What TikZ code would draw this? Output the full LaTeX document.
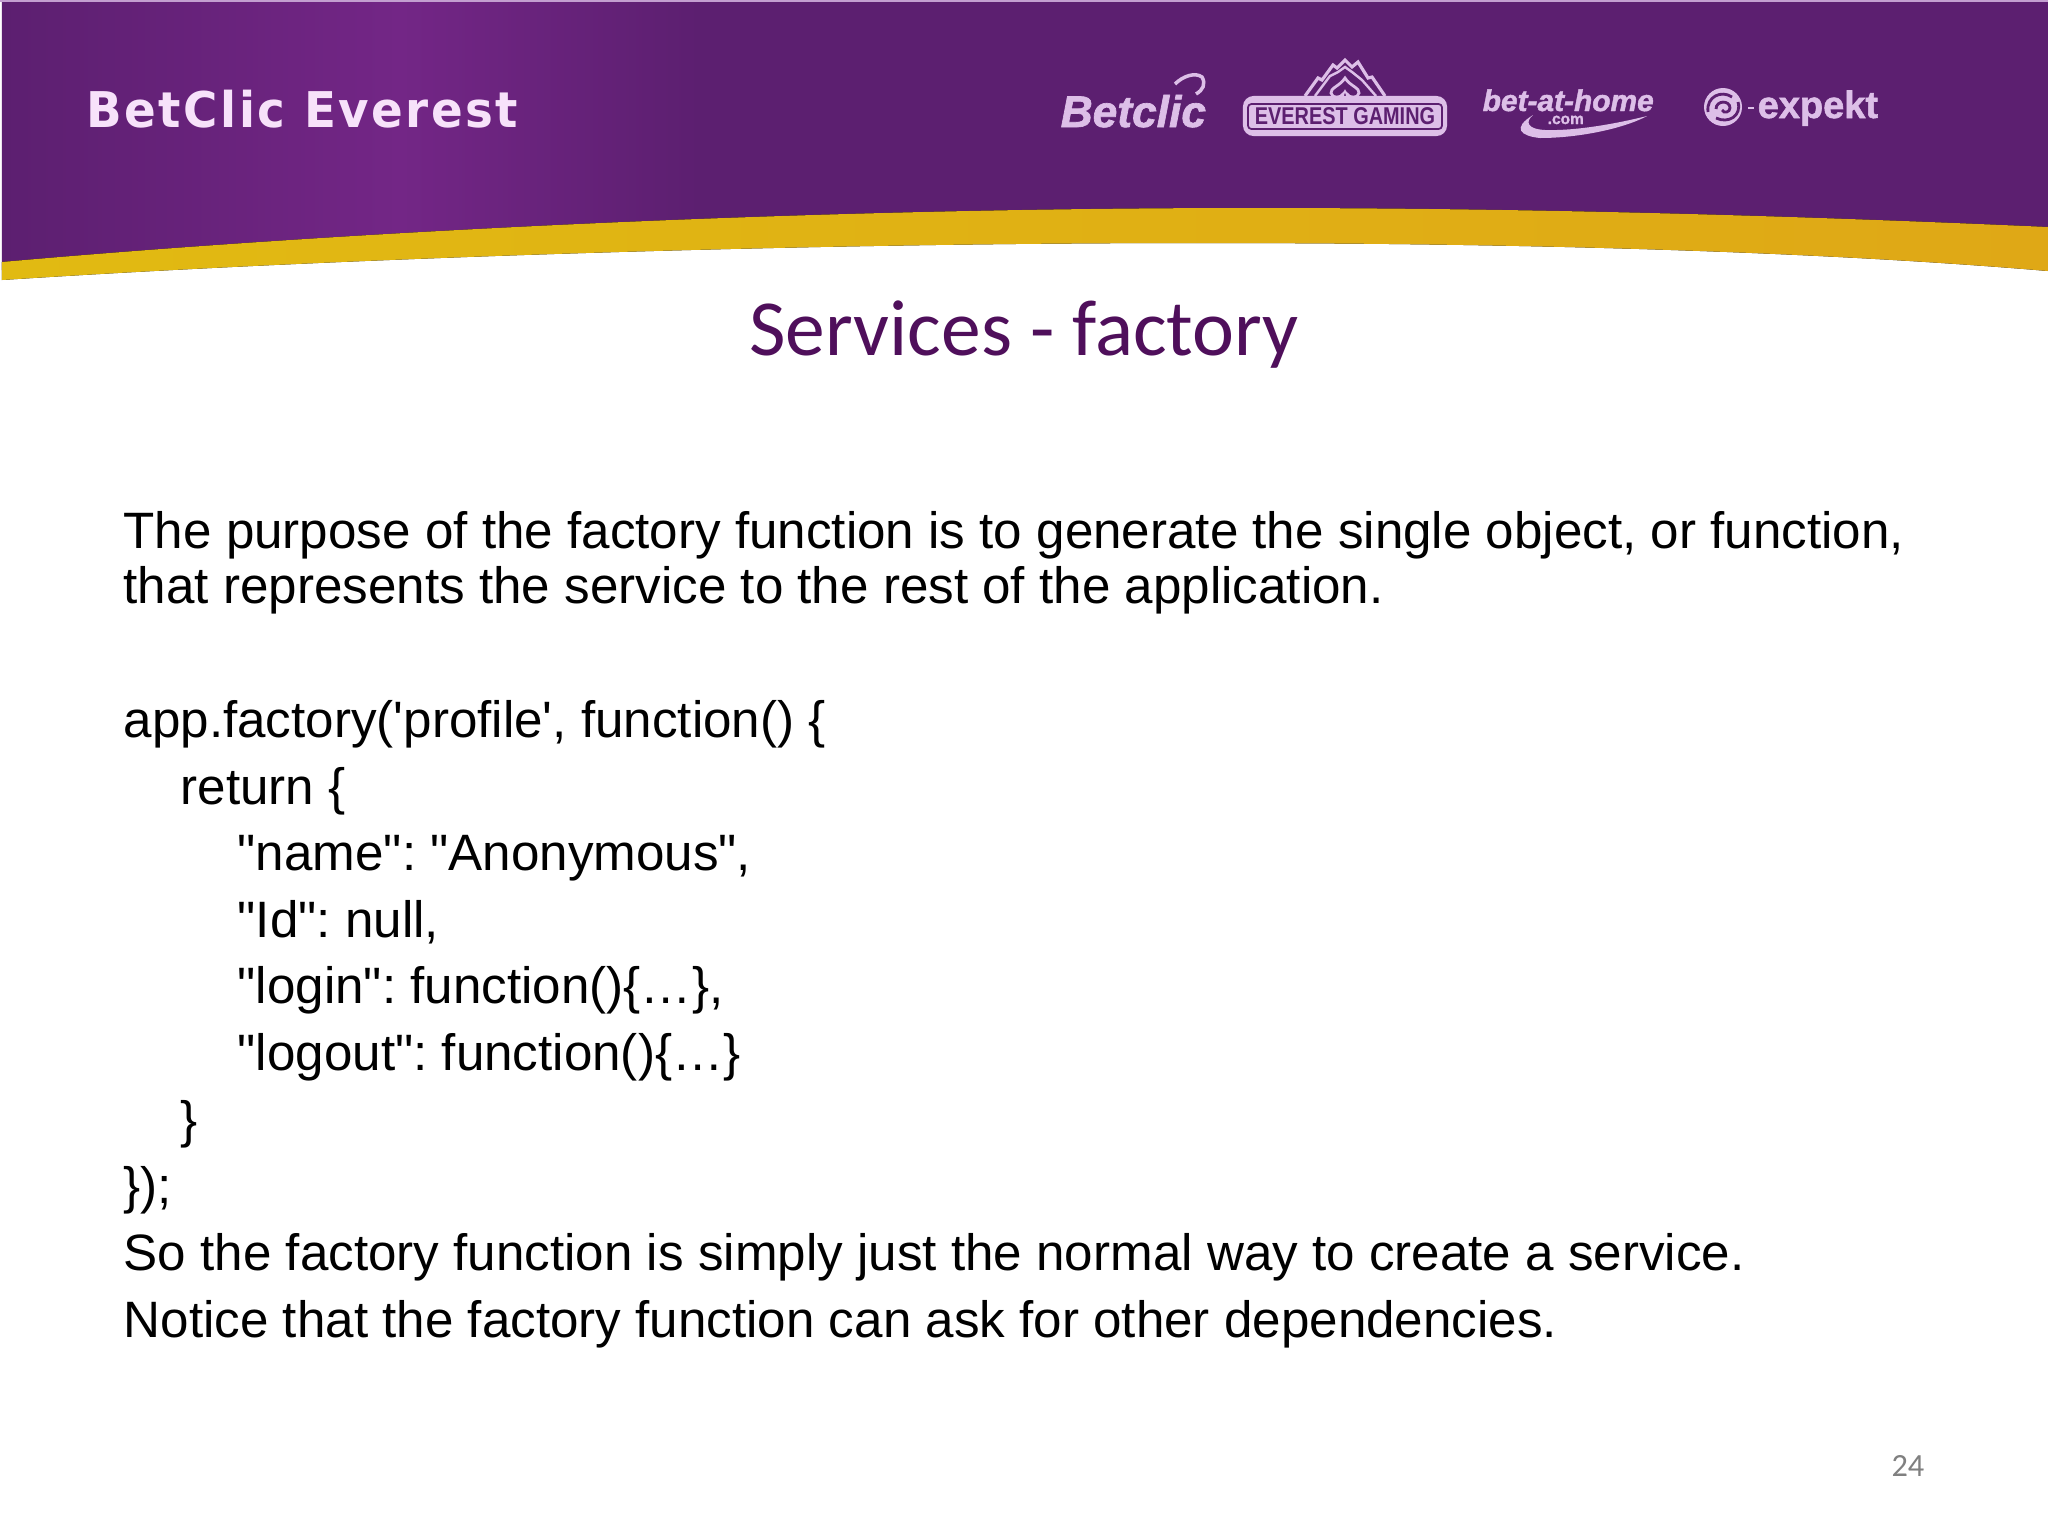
\documentclass[tikz,border=0pt]{standalone}
\usepackage{fontspec}
\newfontfamily\bodyfont{Liberation Sans}
\newfontfamily\logofont[FakeBold=1.5]{Liberation Sans}
\newfontfamily\everestfont[FakeStretch=0.82]{Liberation Sans}
\newfontfamily\titlefont{Carlito}
\newfontfamily\brandfont[LetterSpace=5,FakeStretch=0.95]{DejaVu Sans}
\definecolor{bannerdark}{HTML}{5C1F70}
\definecolor{bannerlight}{HTML}{732686}
\definecolor{goldleft}{HTML}{E1BA12}
\definecolor{goldright}{HTML}{DFA816}
\definecolor{titlepurple}{HTML}{4F0F5B}
\definecolor{logolilac}{HTML}{DDBFE8}
\definecolor{brandpink}{HTML}{F7E2FA}
\tikzset{
    bodyline/.style={anchor=base west, inner sep=0pt, font=\bodyfont\frenchspacing\fontsize{14.55}{16}\selectfont, text=black},
    logotext/.style={anchor=base west, inner sep=0pt, text=logolilac},
}
\begin{document}
\begin{tikzpicture}[x=0.01cm,y=-0.01cm]
    \useasboundingbox (0,0) rectangle (2048,1536);
    \fill[white] (0,0) rectangle (2048,1536);

    % banner
    \begin{scope}
        \clip (2,2) -- (2,270) .. controls (340,245) and (800,225) .. (1253,225) -- (2048,250) -- (2048,2) -- cycle;
        \fill[left color=bannerdark, right color=bannerlight] (2,2) rectangle (400,280);
        \fill[left color=bannerlight, right color=bannerdark] (400,2) rectangle (700,280);
        \fill[bannerdark] (700,2) rectangle (2048,280);
    \end{scope}
    \fill[logolilac!80!bannerdark] (0,0) rectangle (2048,2);
    \fill[left color=goldleft, right color=goldright] (2,262) .. controls (340,232) and (800,208) .. (1253,208)
        .. controls (1540,208) and (1800,216) .. (2048,227)
        -- (2048,271) .. controls (1800,250) and (1500,243) .. (1200,243)
        .. controls (800,243) and (340,258) .. (2,280) -- cycle;

    \node[anchor=base west, inner sep=0pt, text=brandpink, font=\brandfont\bfseries\fontsize{14}{16}\selectfont] (brand) at (86,127) {BetClic Everest};

    % logos
    \node[logotext, font=\logofont\bfseries\itshape\fontsize{12.6}{16}\selectfont] (betclic) at (1060,127) {Betclic};
    \draw[logolilac, line width=1pt] (1175,84) .. controls (1183,76) and (1195,72) .. (1202,77) .. controls (1206,84) and (1203,90) .. (1196,94);

    \draw[logolilac, line width=0.9pt] (1305,96) -- (1318,78) -- (1322,80) -- (1333,65) -- (1337,68) -- (1345,60) -- (1352,67) -- (1358,62) -- (1368,78) -- (1372,77) -- (1385,96);
    \draw[logolilac, line width=0.7pt] (1315,96) -- (1330,76) -- (1338,72) -- (1345,67) -- (1352,72) -- (1362,80) -- (1376,96);
    \draw[logolilac, line width=0.8pt] (1345,78) .. controls (1340,86) and (1330,88) .. (1331,93) .. controls (1332,99) and (1341,98) .. (1343,94) -- (1341,100) -- (1349,100) -- (1347,94) .. controls (1349,98) and (1358,99) .. (1359,93) .. controls (1360,88) and (1350,86) .. (1345,78) -- cycle;
    \node[fill=logolilac, rounded corners=3pt, inner sep=0pt, minimum width=2.04cm, minimum height=0.4cm] (everest) at (1345,116) {};
    \node[draw=bannerdark, line width=0.5pt, rounded corners=1pt, inner sep=0pt, minimum width=1.94cm, minimum height=0.25cm, text=bannerdark, font=\everestfont\bfseries\fontsize{6.9}{8}\selectfont] (everesttext) at (1345,116.5) {EVEREST GAMING};

    \node[logotext, font=\logofont\bfseries\itshape\fontsize{8.5}{10}\selectfont] (bethome) at (1482,111) {bet-at-home};
    \node[logotext, font=\logofont\bfseries\fontsize{4.4}{5}\selectfont] (betcom) at (1547,124) {.com};
    \fill[logolilac] (1533,115) .. controls (1512,128) and (1520,136) .. (1540,138)
        .. controls (1580,138) and (1625,128) .. (1647,116)
        .. controls (1615,124) and (1575,131) .. (1545,130)
        .. controls (1527,129) and (1525,122) .. (1533,115) -- cycle;

    \node[logotext, font=\logofont\bfseries\fontsize{10.8}{13}\selectfont] (expekt) at (1757,118) {expekt};
    \fill[logolilac] (1748,107) rectangle (1754,109);
    \fill[logolilac] (1723,107) circle [radius=19];
    \draw[bannerdark, line width=0.8pt] (1708,112) .. controls (1706,96) and (1722,90) .. (1732,97);
    \draw[bannerdark, line width=0.8pt] (1738,102) .. controls (1742,116) and (1728,124) .. (1716,118);
    \draw[bannerdark, line width=0.8pt] (1716,109) .. controls (1716,100) and (1730,100) .. (1730,108) .. controls (1730,112) and (1724,114) .. (1722,110);

    % title
    \node[anchor=base, inner sep=0pt, text=titlepurple, font=\titlefont\fontsize{22.6}{26}\selectfont] (title) at (1024,355) {Services - factory};

    % body
    \node[bodyline] (line1) at (123,548) {The purpose of the factory function is to generate the single object, or function,};
    \node[bodyline] (line2) at (123,603) {that represents the service to the rest of the application.};
    \node[bodyline] (line3) at (123,737) {app.factory('profile', function() \{};
    \node[bodyline] (line4) at (180,804) {return \{};
    \node[bodyline] (line5) at (237,870) {"name": "Anonymous",};
    \node[bodyline] (line6) at (237,937) {"Id": null,};
    \node[bodyline] (line7) at (237,1003) {"login": function()\{…\},};
    \node[bodyline] (line8) at (237,1070) {"logout": function()\{…\}};
    \node[bodyline] (line9) at (180,1137) {\}};
    \node[bodyline] (line10) at (123,1203) {\});};
    \node[bodyline] (line11) at (123,1270) {So the factory function is simply just the normal way to create a service.};
    \node[bodyline] (line12) at (123,1337) {Notice that the factory function can ask for other dependencies.};

    \node[anchor=base east, inner sep=0pt, text=black!50, font=\titlefont\fontsize{9.2}{11}\selectfont] (pagenum) at (1925,1476) {24};
\end{tikzpicture}
\end{document}
